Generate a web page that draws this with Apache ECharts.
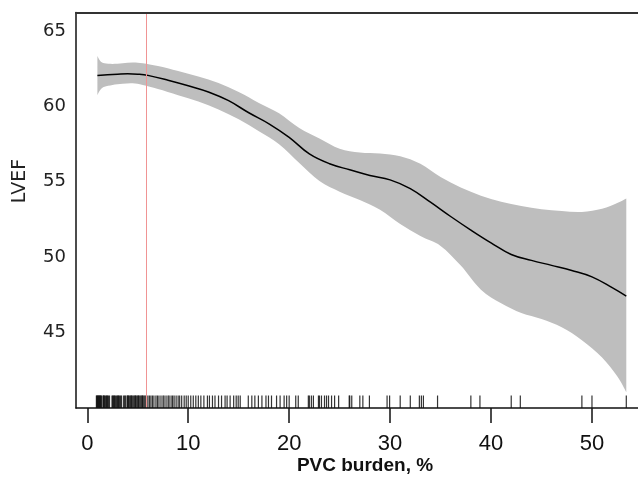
<!DOCTYPE html>
<html><head><meta charset="utf-8">
<script src="https://cdn.jsdelivr.net/npm/echarts@6/dist/echarts.min.js"></script>
<style>html,body{margin:0;padding:0;background:#fff}#c{width:638px;height:481px}</style>
</head><body><div id="c"></div>
<script>
// Fitted curve (PVC burden %, LVEF)
const fitX = [1, 2, 3, 4, 5, 6, 8, 10, 12, 14, 16, 18, 20, 22, 24, 26, 28, 30, 32, 34, 36, 38, 40, 42, 44, 46, 48, 50, 52, 53.4];
const fitY = [62.05, 62.1, 62.14, 62.17, 62.14, 62.06, 61.74, 61.37, 60.96, 60.38, 59.58, 58.85, 57.95, 56.85, 56.2, 55.8, 55.42, 55.13, 54.55, 53.65, 52.7, 51.8, 50.95, 50.18, 49.79, 49.46, 49.12, 48.7, 47.98, 47.42];
// Confidence band
const bandX = [1, 1.3, 1.7, 2.5, 3.5, 4.5, 5.5, 7, 9, 11, 13, 15, 17, 19, 21, 23, 25, 27, 29, 31, 33, 35, 37, 39, 41, 43, 45, 47, 49, 51, 52.5, 53.4];
const bandUpper = [63.35, 63.0, 62.86, 62.82, 62.86, 62.92, 62.87, 62.68, 62.35, 61.98, 61.55, 60.95, 60.23, 59.55, 58.57, 57.88, 57.2, 56.95, 56.88, 56.7, 56.2, 55.32, 54.62, 54.08, 53.68, 53.4, 53.18, 53.06, 53.0, 53.22, 53.6, 53.9];
const bandLower = [60.75, 61.1, 61.3, 61.42, 61.5, 61.53, 61.42, 61.15, 60.75, 60.33, 59.8, 59.15, 58.35, 57.5, 56.25, 55.05, 54.35, 53.8, 53.15, 52.2, 51.4, 50.75, 49.45, 47.85, 46.95, 46.3, 45.9, 45.35, 44.5, 43.35, 42.1, 41.05];
// Rug of observations
const rugX = [0.9,0.95,1.0,1.05,1.1,1.15,1.2,1.25,1.3,1.35,1.4,
1.55,1.6,1.65,1.7,1.8,1.9,1.95,2.0,2.1,2.2,
2.45,2.5,2.6,2.65,2.7,2.8,2.9,3.0,3.05,3.1,3.2,3.3,3.4,
3.6,3.7,3.8,
3.95,4.0,4.05,4.1,4.2,4.3,4.35,4.4,4.5,4.6,4.7,4.75,4.8,4.9,5.0,5.05,5.1,5.2,5.3,5.4,5.45,5.5,5.6,5.7,5.8,
6.0,6.15,6.3,6.45,6.6,6.8,6.95,7.1,7.3,7.5,7.6,7.8,8.0,8.1,8.3,8.45,8.6,8.8,9.0,9.15,9.35,9.6,9.8,
10.0,10.25,10.5,10.75,11.0,11.25,11.55,11.9,12.1,12.4,12.65,13.0,13.3,13.65,13.85,14.15,14.5,14.75,14.95,15.15,
15.95,16.3,16.6,16.95,17.3,17.7,17.95,18.25,18.75,19.1,19.5,19.75,
20.0,20.65,20.9,21.9,22.0,22.2,22.4,22.9,23.0,23.2,23.5,23.7,23.9,24.2,24.5,24.9,
25.95,26.0,26.2,27.0,27.3,27.95,
29.7,29.95,31.0,32.0,32.9,33.1,33.3,34.7,38.0,38.9,42.0,42.9,49.0,50.0,53.4];
const refX = 5.8;
const xTicks = [0, 10, 20, 30, 40, 50];
const yTicks = [45, 50, 55, 60, 65];
const xTitle = 'PVC burden, %';
const yTitle = 'LVEF';

// Catmull-Rom spline through pixel points -> SVG path commands (rendering only)
function splineCmds(p, first) {
  let d = first ? 'M' + p[0][0] + ',' + p[0][1] : 'L' + p[0][0] + ',' + p[0][1];
  for (let i = 0; i < p.length - 1; i++) {
    const p0 = p[Math.max(i - 1, 0)], p1 = p[i], p2 = p[i + 1], p3 = p[Math.min(i + 2, p.length - 1)];
    const c1 = [p1[0] + (p2[0] - p0[0]) / 6, p1[1] + (p2[1] - p0[1]) / 6];
    const c2 = [p2[0] - (p3[0] - p1[0]) / 6, p2[1] - (p3[1] - p1[1]) / 6];
    d += 'C' + c1[0] + ',' + c1[1] + ',' + c2[0] + ',' + c2[1] + ',' + p2[0] + ',' + p2[1];
  }
  return d;
}

const chart = echarts.init(document.getElementById('c'));
const axisCommon = {splitLine: {show: false}, z: 10};
chart.setOption({
  animation: false,
  grid: {left: 76, right: 0, top: 12.5, bottom: 73},
  xAxis: [
    Object.assign({type: 'value', min: -1.12, max: 54.56, position: 'bottom',
      axisLine: {show: true, onZero: false, lineStyle: {color: '#111', width: 1.5}},
      axisTick: {show: true, length: 15, customValues: xTicks, lineStyle: {color: '#111', width: 1.5}},
      axisLabel: {customValues: xTicks, fontSize: 22, fontFamily: 'Liberation Sans', color: '#111', margin: 25}
    }, axisCommon),
    Object.assign({type: 'value', min: -1.12, max: 54.56, position: 'top',
      axisLine: {show: true, onZero: false, lineStyle: {color: '#333', width: 2}},
      axisTick: {show: false}, axisLabel: {show: false}
    }, axisCommon)
  ],
  yAxis: Object.assign({type: 'value', min: 40, max: 66.23,
    axisLine: {show: true, onZero: false, lineStyle: {color: '#111', width: 1.5}},
    axisTick: {show: false},
    axisLabel: {customValues: yTicks, fontSize: 18, fontFamily: 'DejaVu Sans', color: '#222', margin: 10}
  }, axisCommon),
  graphic: [
    {type: 'text', x: 365, y: 466, style: {text: xTitle, fontSize: 19, fontWeight: 'bold', fontFamily: 'Liberation Sans', fill: '#111', align: 'center', verticalAlign: 'middle'}},
    {type: 'text', x: 20.5, y: 181, rotation: Math.PI / 2, style: {text: yTitle, fontSize: 19, fontFamily: 'DejaVu Sans', fill: '#222', align: 'center', verticalAlign: 'middle'}}
  ],
  series: [
    {type: 'custom', z: 1, silent: true, data: [[bandX[0], bandUpper[0]]],
      renderItem: function (params, api) {
        const up = bandX.map((x, i) => api.coord([x, bandUpper[i]]));
        const lo = bandX.map((x, i) => api.coord([x, bandLower[i]])).reverse();
        const d = splineCmds(up, true) + splineCmds(lo, false) + 'Z';
        return {type: 'path', shape: {pathData: d}, style: {fill: '#bebebe', stroke: null}};
      }},
    {type: 'scatter', z: 3, data: rugX.map(x => [x, 40]), symbol: 'rect', symbolSize: [1.2, 12.5], symbolOffset: [0, -6.25],
      itemStyle: {color: '#111', opacity: 0.85}, silent: true},
    {type: 'line', z: 4, data: fitX.map((x, i) => [x, fitY[i]]), smooth: 0.4, symbol: 'none',
      lineStyle: {color: '#000', width: 1.5},
      markLine: {silent: true, symbol: ['none', 'none'], label: {show: false},
        lineStyle: {color: '#f09494', width: 1, type: 'solid'}, data: [{xAxis: refX}]}}
  ]
});
</script></body></html>
